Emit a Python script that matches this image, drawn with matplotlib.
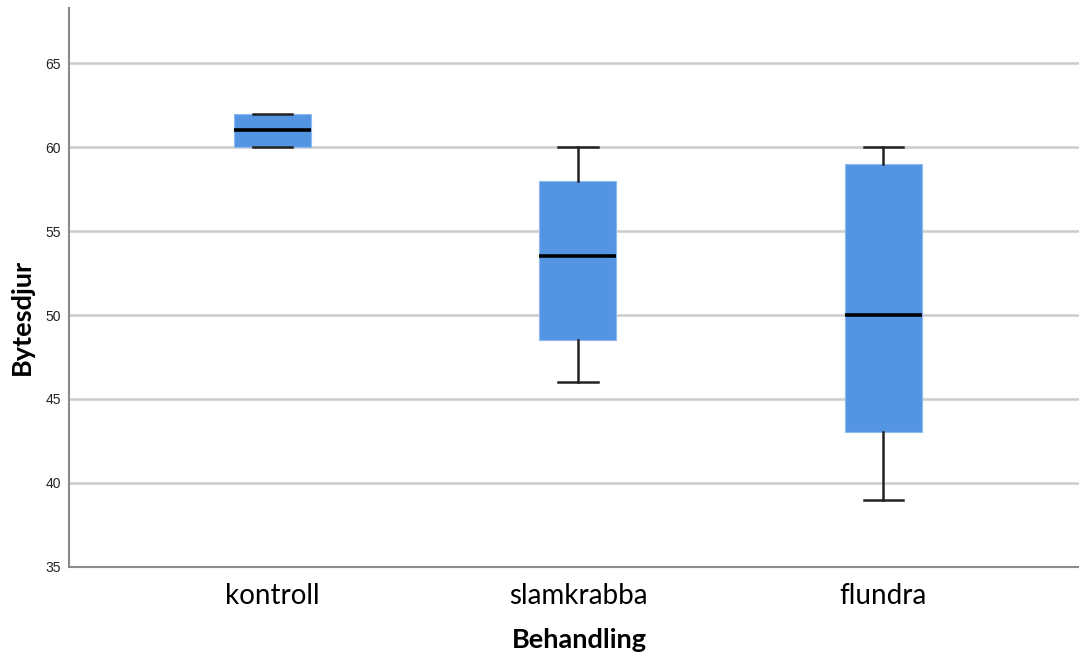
import matplotlib
matplotlib.use("Agg")
import matplotlib.pyplot as plt

# Five-number summaries per treatment
categories = ["kontroll", "slamkrabba", "flundra"]
whisker_low = [60, 46, 39]
q1 = [60, 48.5, 43]
median = [61, 53.5, 50]
q3 = [62, 58, 59]
whisker_high = [62, 60, 60]
y_ticks = [35, 40, 45, 50, 55, 60, 65]

W, H = 1079, 659
fig = plt.figure(figsize=(W / 100, H / 100), dpi=100)
ax = fig.add_axes([69 / W, (H - 566.7) / H, 1 - 69 / W, (566.7 - 8) / H])

stats = []
for i, name in enumerate(categories):
    stats.append(dict(label=name, whislo=whisker_low[i], q1=q1[i], med=median[i],
                      q3=q3[i], whishi=whisker_high[i], fliers=[]))

positions = list(range(len(categories)))

ax.set_axisbelow(True)
ax.yaxis.grid(True, color="#cccccc", linewidth=1.8)

ax.bxp(stats, positions=positions, widths=0.252, patch_artist=True,
       showfliers=False,
       boxprops=dict(facecolor="#5495e3", edgecolor="#8fbaf0", linewidth=0.8),
       medianprops=dict(color="black", linewidth=2.6, solid_capstyle="butt"),
       whiskerprops=dict(color="#222222", linewidth=1.8),
       capprops=dict(color="#222222", linewidth=1.8),
       capwidths=0.128)

ax.set_xlim(-0.666, 2.64)
ax.set_ylim(35, 68.3)
ax.set_yticks(y_ticks)
ax.set_yticklabels([str(v) for v in y_ticks], fontsize=10,
                   fontfamily="Liberation Sans", color="#222222")
ax.set_xticks(positions)
ax.set_xticklabels(categories, fontsize=20, fontfamily="Lato")
ax.tick_params(axis="both", length=0)
ax.tick_params(axis="x", pad=12)
ax.tick_params(axis="y", pad=6)

for side in ("top", "right"):
    ax.spines[side].set_visible(False)
for side in ("left", "bottom"):
    ax.spines[side].set_color("#8a8a8a")
    ax.spines[side].set_linewidth(1.5)

ax.set_ylabel("Bytesdjur", fontsize=19.5, fontweight="bold", fontfamily="Lato",
              va="center")
ax.set_xlabel("Behandling", fontsize=19.5, fontweight="bold", fontfamily="Lato",
              va="center")
ax.yaxis.set_label_coords(-0.0465, 0.447)
ax.xaxis.set_label_coords(0.505, -0.131)

fig.savefig("out.png", dpi=100)
